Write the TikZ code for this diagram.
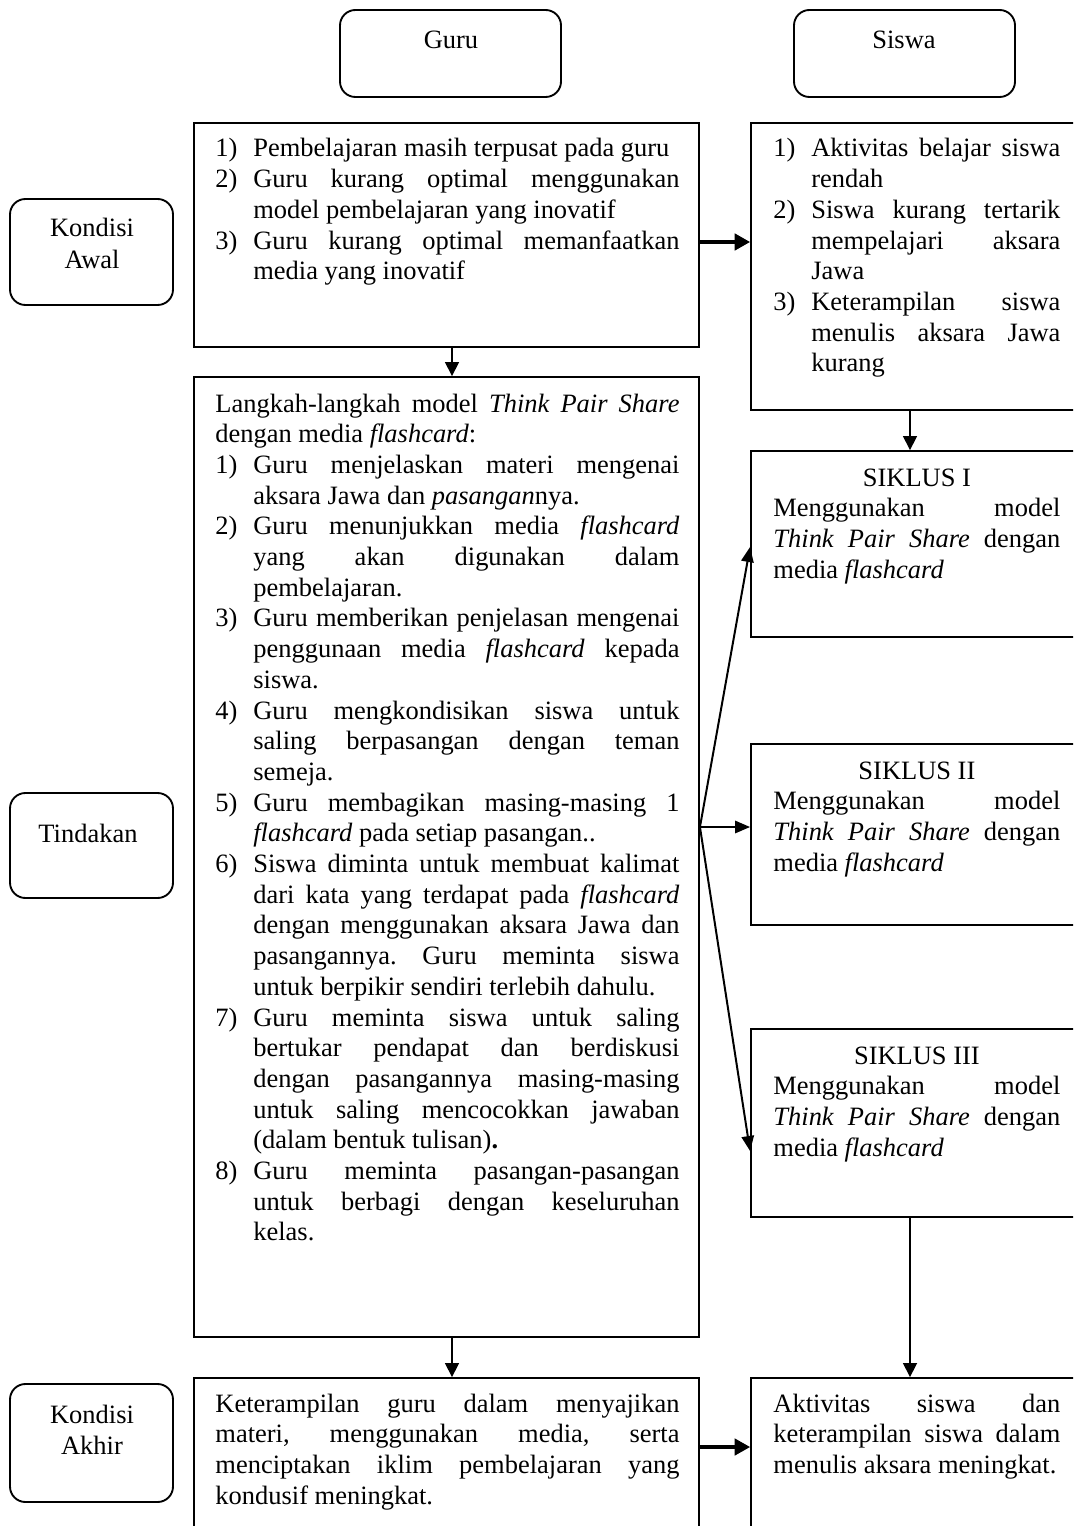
\documentclass[tikz,border=0pt]{standalone}
\usepackage{fontspec}
\setmainfont{Liberation Serif}
\usetikzlibrary{arrows.meta,fit}
\tolerance=10000
\hbadness=10000
\frenchspacing
\newcommand\itmA[1]{\hangindent=17.2pt\hangafter=1\makebox[17.2pt][l]{#1}\ignorespaces}
\newcommand\itm[1]{\par\itmA{#1}}
\newcommand\ttl[1]{\makebox[\linewidth][c]{#1}\par}
\begin{document}
\begin{tikzpicture}[x=0.4534pt,y=-0.4534pt,
  box/.style={draw,line width=0.85pt,inner sep=0pt},
  rbox/.style={draw,line width=0.85pt,rounded corners=7pt,inner sep=0pt},
  body/.style={anchor=base west,inner sep=0pt,align=justify,
    font=\fontsize{12}{13.92}\selectfont\frenchspacing},
  wide/.style={body,text width=210.4pt},
  narrow/.style={body,text width=130.1pt},
  lbl/.style={anchor=base,inner sep=0pt,align=center,text width=70pt,
    font=\fontsize{12}{14.5}\selectfont},
  arr/.style={line width=0.7pt,-{Triangle[length=6.3pt,width=6.3pt]}},
  farr/.style={line width=0.9pt,-{Triangle[length=6.8pt,width=5.6pt]}},
  tarr/.style={line width=1.4pt,-{Triangle[length=7pt,width=7.5pt]}},
]
\useasboundingbox (0,0) rectangle (1073,1526);
\begin{scope}
\clip (0,0) rectangle (1073,1526);
% header and row labels
\node[rbox,fit={(340,10) (561,97)}] (guru) {};
\node[rbox,fit={(794,10) (1015,97)}] (siswa) {};
\node[rbox,fit={(10,199) (173,305)}] (kawal) {};
\node[rbox,fit={(10,793) (173,898)}] (tind) {};
\node[rbox,fit={(10,1384) (173,1502)}] (kakhir) {};
\node[lbl] (lguru) at (451,49) {Guru};
\node[lbl] (lsiswa) at (904,49) {Siswa};
\node[lbl] (lkawal) at (92,237) {Kondisi\\Awal};
\node[lbl] (ltind) at (88,842) {Tindakan};
\node[lbl] (lkakhir) at (92,1423) {Kondisi\\Akhir};
% content boxes
\node[box,fit={(194,123) (699,347)}] (A) {};
\node[box,fit={(751,123) (1082,410)}] (B) {};
\node[box,fit={(194,377) (699,1337)}] (C) {};
\node[box,fit={(751,451) (1082,637)}] (S1) {};
\node[box,fit={(751,744) (1082,925)}] (S2) {};
\node[box,fit={(751,1029) (1082,1217)}] (S3) {};
\node[box,fit={(194,1378) (699,1545)}] (D) {};
\node[box,fit={(751,1378) (1082,1545)}] (E) {};
% texts
\node[wide] (tA) at (215,157) {\itmA{1)}Pembelajaran masih terpusat pada guru
\itm{2)}Guru kurang optimal menggunakan \linebreak model pembelajaran yang inovatif
\itm{3)}Guru kurang optimal memanfaatkan \linebreak media yang inovatif\par};
\node[narrow] (tB) at (773,157) {\itmA{1)}Aktivitas belajar siswa \linebreak rendah
\itm{2)}Siswa kurang tertarik \linebreak mempelajari aksara \linebreak Jawa
\itm{3)}Keterampilan siswa \linebreak menulis aksara Jawa \linebreak kurang\par};
\node[wide] (tC) at (215,412) {Langkah-langkah model \textit{Think Pair Share} \linebreak dengan media \textit{flashcard}:
\itm{1)}Guru menjelaskan materi mengenai \linebreak aksara Jawa dan \textit{pasangan}nya.
\itm{2)}Guru menunjukkan media \textit{flashcard} \linebreak yang akan digunakan dalam \linebreak pembelajaran.
\itm{3)}Guru memberikan penjelasan mengenai \linebreak penggunaan media \textit{flashcard} kepada \linebreak siswa.
\itm{4)}Guru mengkondisikan siswa untuk \linebreak saling berpasangan dengan teman \linebreak semeja.
\itm{5)}Guru membagikan masing-masing 1 \linebreak \textit{flashcard} pada setiap pasangan..
\itm{6)}Siswa diminta untuk membuat kalimat \linebreak dari kata yang terdapat pada \textit{flashcard} \linebreak dengan menggunakan aksara Jawa dan \linebreak pasangannya. Guru meminta siswa \linebreak untuk berpikir sendiri terlebih dahulu.
\itm{7)}Guru meminta siswa untuk saling \linebreak bertukar pendapat dan berdiskusi \linebreak dengan pasangannya masing-masing \linebreak untuk saling mencocokkan jawaban \linebreak (dalam bentuk tulisan)\textbf{.}
\itm{8)}Guru meminta pasangan-pasangan \linebreak untuk berbagi dengan keseluruhan \linebreak kelas.\par};
\node[narrow] (tS1) at (773,486) {\ttl{SIKLUS I}Menggunakan model \linebreak \textit{Think Pair Share} dengan \linebreak media \textit{flashcard}\par};
\node[narrow] (tS2) at (773,779) {\ttl{SIKLUS II}Menggunakan model \linebreak \textit{Think Pair Share} dengan \linebreak media \textit{flashcard}\par};
\node[narrow] (tS3) at (773,1064) {\ttl{SIKLUS III}Menggunakan model \linebreak \textit{Think Pair Share} dengan \linebreak media \textit{flashcard}\par};
\node[wide] (tD) at (215,1412) {Keterampilan guru dalam menyajikan \linebreak materi, menggunakan media, serta \linebreak menciptakan iklim pembelajaran yang \linebreak kondusif meningkat.\par};
\node[narrow] (tE) at (773,1412) {Aktivitas siswa dan \linebreak keterampilan siswa dalam \linebreak menulis aksara meningkat.\par};
% connectors
\draw[tarr] (A.east |- 0,242) -- (B.west |- 0,242);
\draw[arr] (A.south -| 452,0) -- (C.north -| 452,0);
\draw[arr] (B.south -| 910,0) -- (S1.north -| 910,0);
\coordinate (fo) at (C.east |- 0,827);
\draw[farr] (fo) -- (S1.west |- 0,547);
\draw[farr] (fo) -- (S2.west |- 0,827);
\draw[farr] (fo) -- (S3.west |- 0,1151);
\draw[arr] (C.south -| 452,0) -- (D.north -| 452,0);
\draw[arr] (S3.south -| 910,0) -- (E.north -| 910,0);
\draw[tarr] (D.east |- 0,1447) -- (E.west |- 0,1447);
\end{scope}
\end{tikzpicture}
\end{document}
